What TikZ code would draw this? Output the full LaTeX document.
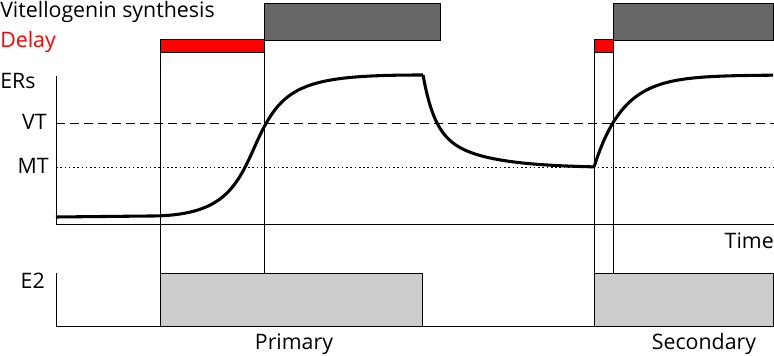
\documentclass[tikz,border=0pt]{standalone}
\usepackage{fontspec}
\setmainfont{Open Sans}
\usepackage{tikz}
\definecolor{synthgrey}{HTML}{666666}
\definecolor{egrey}{HTML}{CCCCCC}

\begin{document}
\begin{tikzpicture}[x=0.75pt,y=-0.75pt,
    every node/.style={font=\fontsize{16}{19}\selectfont, inner sep=0pt},
    guide/.style={line width=0.75pt},
    synthbox/.style={draw, fill=synthgrey, line width=0.75pt},
    delaybox/.style={draw, fill=red, line width=0.75pt},
    e2box/.style={draw, fill=egrey, line width=0.75pt},
    level/.style={line width=2.3pt, line join=round}]
    \useasboundingbox (0,0) rectangle (774,356);
    % labels
    \node[anchor=base west] (vitel) at (0,18) {Vitellogenin synthesis};
    \node[anchor=base west, text=red] (delay) at (0,48) {Delay};
    \node[anchor=base west] (ers) at (0,89) {ERs};
    \node[anchor=base east] (vt) at (47,130) {VT};
    \node[anchor=base east] (mt) at (49,174) {MT};
    \node[anchor=base east] (time) at (774,248) {Time};
    \node[anchor=base east] (e2) at (45,288) {E2};
    \node[anchor=base] (prim) at (294,349) {Primary};
    \node[anchor=base] (sec) at (704,349) {Secondary};
    % axes and thresholds
    \coordinate (ertop) at (56,76);
    \coordinate (origin) at (56,224);
    \coordinate (tend) at (774,224);
    \draw[guide] (ertop) -- (origin) -- (tend);
    \draw[guide] (56,273) -- (56,326) -- (773,326);
    \draw[guide, dash pattern=on 6.8pt off 3.7pt] (56,124) -- (774,124);
    \draw[guide, dash pattern=on 1.2pt off 2pt] (56,168) -- (774,168);
    % the two episodes
    \foreach \a/\b/\c/\e [count=\i] in {160/264/440/422, 594/613/773/773}{
    \coordinate (d\i) at (\a,40);
    \coordinate (v\i) at (\b,41);
    \draw[e2box] (\a,273) rectangle (\e,326);
    \draw[guide] (d\i) -- (\a,273) (v\i) -- (\b,273);
    \draw[synthbox] (v\i) rectangle (\c,4);
    \draw[delaybox] (d\i) rectangle (\b,53);
    }
    % ERs level
    \draw[level] (56,217) -- (150,216)
    .. controls (222,216) and (236,189) .. (255,146)
    .. controls (281.6,85.8) and (300,75) .. (423,75)
    plot[domain=0:171, samples=90]
    ({423+\x},{168-93*(0.57*exp(-\x/11.2)+0.43*exp(-\x/48))})
    plot[domain=0:179, samples=60] ({594+\x},{75+92*exp(-\x/29)});
\end{tikzpicture}
\end{document}
